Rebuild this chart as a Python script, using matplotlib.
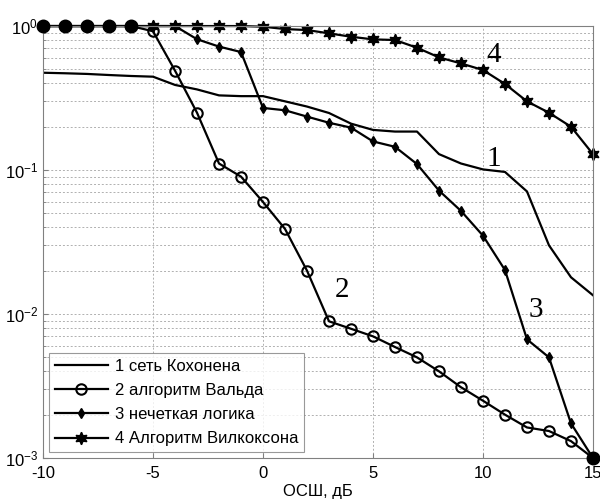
import matplotlib.pyplot as plt

plt.rcParams['font.family'] = ['Liberation Sans', 'DejaVu Sans']

snr = list(range(-10, 16))

# 1 - Kohonen network (no markers)
kohonen = [0.474, 0.47, 0.465, 0.457, 0.45, 0.445, 0.39, 0.363, 0.33, 0.326,
           0.326, 0.30, 0.276, 0.249, 0.21, 0.19, 0.185, 0.185, 0.129, 0.111,
           0.101, 0.097, 0.071, 0.03, 0.018, 0.0135]
# 2 - Wald algorithm
wald = [1, 1, 1, 1, 1, 0.92, 0.49, 0.25, 0.111, 0.09,
        0.06, 0.039, 0.02, 0.0089, 0.0079, 0.007, 0.0059, 0.005, 0.004, 0.0031,
        0.0025, 0.002, 0.00163, 0.00154, 0.00131, 0.001]
# 3 - fuzzy logic
fuzzy = [1, 1, 1, 1, 1, 1, 1, 0.81, 0.72, 0.66,
         0.27, 0.26, 0.235, 0.213, 0.197, 0.158, 0.145, 0.11, 0.072, 0.052,
         0.035, 0.0202, 0.00667, 0.005, 0.00174, 0.001]
# 4 - Wilcoxon algorithm
wilcoxon = [1, 1, 1, 1, 1, 1, 1, 1, 1, 1,
            0.99, 0.953, 0.938, 0.89, 0.843, 0.808, 0.80, 0.707, 0.606, 0.55,
            0.495, 0.396, 0.30, 0.25, 0.20, 0.129]

labels = ['1 сеть Кохонена', '2 алгоритм Вальда', '3 нечеткая логика',
          '4 Алгоритм Вилкоксона']

fig = plt.figure(figsize=(6, 5.01), dpi=100)
ax = fig.add_axes([0.0717, 0.0858, 0.9166, 0.8622])

ax.semilogy(snr, kohonen, color='black', lw=1.6, label=labels[0])
ax.semilogy(snr, wald, color='black', lw=1.6, marker='o', ms=7.5,
            mfc='none', mew=1.5, label=labels[1], clip_on=False)
ax.semilogy(snr, fuzzy, color='black', lw=1.6, marker='d', ms=5.5,
            mfc='black', label=labels[2], clip_on=False)
ax.semilogy(snr, wilcoxon, color='black', lw=1.6, marker=(6, 1, 0), ms=9,
            mfc='black', mec='black', label=labels[3], clip_on=False)

# where Wald and fuzzy markers coincide the overlapping marks look like solid dots
same = [(x, w) for x, w, f in zip(snr, wald, fuzzy) if w == f]
ax.plot([p[0] for p in same], [p[1] for p in same], 'o', color='black',
        ms=9, clip_on=False, zorder=5)

ax.set_xlim(-10, 15)
ax.set_ylim(1e-3, 1)
ax.set_xticks([-10, -5, 0, 5, 10, 15])
ax.set_xticklabels(['-10', '-5', '0', '5', '10', '15'])

ax.grid(True, which='major', color='#b0b0b0', linestyle=(0, (2, 2)), lw=0.7)
ax.grid(True, which='minor', axis='y', color='#b0b0b0', linestyle=(0, (2, 2)), lw=0.7)
ax.tick_params(which='both', direction='in', labelsize=12, color='#808080')
ax.tick_params(axis='x', pad=6)
for s in ax.spines.values():
    s.set_color('#808080')

ax.set_xlabel('ОСШ, дБ', fontsize=12, labelpad=2)

serif = dict(fontsize=21, family='Liberation Serif', ha='center', va='center')
ax.text(10.5, 0.63, '4', **serif)
ax.text(10.5, 0.12, '1', **serif)
ax.text(3.6, 0.0147, '2', **serif)
ax.text(12.4, 0.0107, '3', **serif)

leg = ax.legend(loc='lower left', fontsize=12, frameon=True, fancybox=False,
                edgecolor='#808080', handlelength=3.2, handletextpad=0.4,
                borderaxespad=0.35, labelspacing=0.55, borderpad=0.35)
leg.get_frame().set_linewidth(0.8)

fig.savefig('out.png', dpi=100)
